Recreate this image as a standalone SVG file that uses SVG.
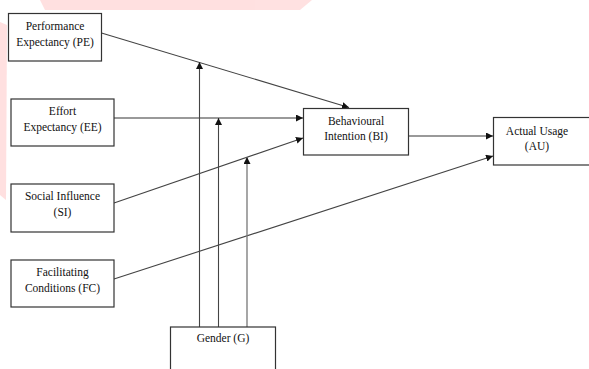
<svg xmlns="http://www.w3.org/2000/svg" width="589" height="369" viewBox="0 0 589 369">
<style>
.box{fill:#fff;stroke:#333;stroke-width:1.2}
.t{font-family:"Liberation Serif","Times New Roman",serif;font-size:11.5px;fill:#111;text-anchor:middle}
.c{stroke:#444;stroke-width:1.1;fill:none}
.g{stroke:#777;stroke-width:1.3;fill:none}
</style>
<defs>
<marker id="ah" viewBox="0 0 10 10" refX="10" refY="5" markerWidth="7" markerHeight="7" markerUnits="userSpaceOnUse" orient="auto">
<path d="M0,0 L10,5 L0,10 Z" fill="#111"/>
</marker>
</defs>
<rect width="589" height="369" fill="#fff"/>
<g id="watermark" fill="#ffd9d9" opacity="0.8">
<polygon points="40,0 312,0 300,10 45,10"/>
<polygon points="0,22 7,25 6,200 0,195"/>
</g>
<g id="connectors">
<line class="c" x1="101.5" y1="33" x2="349" y2="107.5" marker-end="url(#ah)"/>
<line class="g" x1="114" y1="118" x2="303" y2="118" marker-end="url(#ah)"/>
<line class="c" x1="114" y1="203" x2="303" y2="138" marker-end="url(#ah)"/>
<line class="c" x1="114" y1="279" x2="493" y2="156" marker-end="url(#ah)"/>
<line class="g" x1="408" y1="136" x2="493" y2="136" marker-end="url(#ah)"/>
<line class="c" x1="199.5" y1="327" x2="199.5" y2="62" marker-end="url(#ah)"/>
<line class="c" x1="218.5" y1="327" x2="218.5" y2="118" marker-end="url(#ah)"/>
<line class="g" x1="247" y1="327" x2="247" y2="157" marker-end="url(#ah)"/>
</g>
<g id="PE"><rect class="box" x="8.5" y="13.5" width="93" height="47.5"/><text class="t" x="55" y="30">Performance</text><text class="t" x="55" y="46">Expectancy (PE)</text></g>
<g id="EE"><rect class="box" x="11" y="99" width="103" height="47"/><text class="t" x="62.5" y="115">Effort</text><text class="t" x="62.5" y="131">Expectancy (EE)</text></g>
<g id="SI"><rect class="box" x="11" y="184" width="103" height="48"/><text class="t" x="62.5" y="200">Social Influence</text><text class="t" x="62.5" y="216">(SI)</text></g>
<g id="FC"><rect class="box" x="11" y="260" width="103" height="47"/><text class="t" x="62.5" y="276">Facilitating</text><text class="t" x="62.5" y="292">Conditions (FC)</text></g>
<g id="BI"><rect class="box" x="303.5" y="108.5" width="105" height="46.5"/><text class="t" x="356" y="125">Behavioural</text><text class="t" x="356" y="140">Intention (BI)</text></g>
<g id="AU"><rect class="box" x="493.5" y="117.5" width="100" height="47.5"/><text class="t" x="537" y="135">Actual Usage</text><text class="t" x="537" y="150">(AU)</text></g>
<g id="G"><rect class="box" x="170.5" y="327" width="105" height="50"/><text class="t" x="223" y="342">Gender (G)</text></g>
</svg>
